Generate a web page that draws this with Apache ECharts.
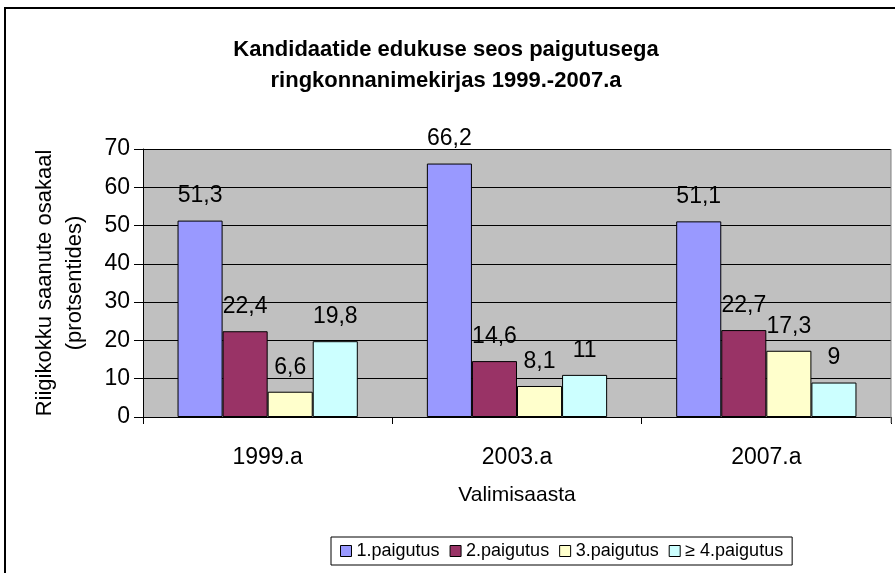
<!DOCTYPE html>
<html>
<head>
<meta charset="utf-8">
<script src="https://cdn.jsdelivr.net/npm/echarts@6/dist/echarts.min.js"></script>
<style>
  html, body { margin: 0; padding: 0; background: #fff; }
  #main { width: 895px; height: 573px; }
</style>
</head>
<body>
<div id="main"></div>
<script>
// chart data
var years = ['1999.a', '2003.a', '2007.a'];
var seriesNames = ['1.paigutus', '2.paigutus', '3.paigutus', '\u2265 4.paigutus'];
var place1 = [51.3, 66.2, 51.1];
var place2 = [22.4, 14.6, 22.7];
var place3 = [6.6, 8.1, 17.3];
var place4 = [19.8, 11, 9];
var colors = ['#9999FF', '#993366', '#FFFFCC', '#CCFFFF'];

var chart = echarts.init(document.getElementById('main'));
var fnt = 'Liberation Sans, Arial, sans-serif';

function mkSeries(name, data, color) {
    return {
        type: 'bar',
        name: name,
        data: data,
        barGap: '0%',
        barCategoryGap: '27.7%',
        itemStyle: { color: color, borderColor: '#000', borderWidth: 1 },
        label: {
            show: true,
            position: 'top',
            distance: 13,
            color: '#000',
            fontFamily: fnt,
            fontSize: 23,
            formatter: function (p) { return String(p.value).replace('.', ','); }
        }
    };
}

var option = {
    animation: false,
    backgroundColor: '#fff',
    title: {
        text: 'Kandidaatide edukuse seos paigutusega\nringkonnanimekirjas 1999.-2007.a',
        left: 441,
        textAlign: 'center',
        top: 29,
        textStyle: { fontFamily: fnt, fontSize: 22, fontWeight: 'bold', color: '#000', lineHeight: 31 }
    },
    legend: {
        left: 331,
        top: 537,
        itemWidth: 11,
        itemHeight: 11,
        itemGap: 10,
        icon: 'rect',
        padding: [5, 9, 5, 9],
        borderColor: '#000',
        borderWidth: 1,
        backgroundColor: '#fff',
        textStyle: { fontFamily: fnt, fontSize: 18, color: '#000' },
        itemStyle: { borderColor: '#000', borderWidth: 1 },
        data: seriesNames
    },
    grid: { left: 143, top: 149, right: 4, bottom: 156, show: true, backgroundColor: '#C0C0C0', borderWidth: 0 },
    xAxis: {
        type: 'category',
        data: years,
        name: 'Valimisaasta',
        nameLocation: 'middle',
        nameGap: 68,
        nameTextStyle: { fontFamily: fnt, fontSize: 21, color: '#000' },
        axisLine: { lineStyle: { color: '#000', width: 1 } },
        axisTick: { show: true, length: 7, lineStyle: { color: '#000' } },
        axisLabel: { fontFamily: fnt, fontSize: 23, color: '#000', margin: 29 }
    },
    yAxis: {
        type: 'value',
        min: 0,
        max: 70,
        interval: 10,
        name: 'Riigikokku saanute osakaal\n(protsentides)',
        nameLocation: 'middle',
        nameRotate: 90,
        nameGap: 53,
        nameTextStyle: { fontFamily: fnt, fontSize: 22, color: '#000', lineHeight: 30 },
        axisLine: { show: true, lineStyle: { color: '#000', width: 1 } },
        axisTick: { show: true, length: 9, lineStyle: { color: '#000' } },
        axisLabel: { fontFamily: fnt, fontSize: 23, color: '#000', margin: 13 },
        splitLine: { show: true, lineStyle: { color: '#000', width: 1 } }
    },
    graphic: [{
        type: 'rect',
        shape: { x: 5, y: 8, width: 900, height: 600 },
        style: { fill: null, stroke: '#000', lineWidth: 2 },
        silent: true,
        z: 100
    }, {
        type: 'line',
        shape: { x1: 891, y1: 149, x2: 891, y2: 423 },
        style: { stroke: '#808080', lineWidth: 1 },
        silent: true,
        z: 50
    }],
    series: [
        mkSeries(seriesNames[0], place1, colors[0]),
        mkSeries(seriesNames[1], place2, colors[1]),
        mkSeries(seriesNames[2], place3, colors[2]),
        mkSeries(seriesNames[3], place4, colors[3])
    ]
};

chart.setOption(option);
</script>
</body>
</html>
